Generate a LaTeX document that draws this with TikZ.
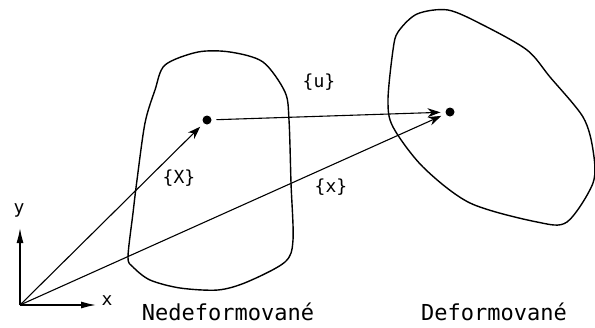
\documentclass[tikz,border=0pt]{standalone}
\usepackage{fontspec}
\newfontfamily\popisfont{DejaVu Sans Mono}
\usepackage{tikz}
\usetikzlibrary{arrows.meta,positioning}

\begin{document}
\begin{tikzpicture}[
	x=1pt, y=-1pt,
	>={Stealth[length=13pt,width=9pt]},
	bod/.style={circle, fill=black, inner sep=0pt, minimum size=9pt, outer sep=5pt},
	vektor/.style={->, line width=1.1pt},
	osa/.style={-{Latex[length=16pt,width=7pt]}, line width=2pt},
	teleso/.style={line width=1.4pt},
	popis/.style={font=\popisfont\fontsize{18}{20}\selectfont, inner sep=0pt},
	nazev/.style={font=\popisfont\fontsize{22}{24}\selectfont, inner sep=0pt, anchor=base},
]
\useasboundingbox (0,0) rectangle (595,327);

% telesa
\draw[teleso] plot[smooth cycle, tension=0.5] coordinates {(198,52) (230,52) (263,62) (285,92) (289,120) (291,183) (293,240) (285,262) (247,282) (218,290) (180,288) (150,280) (133,267) (128,257) (133,213) (137,180) (145,123) (155,90) (165,65)};
\draw[teleso] plot[smooth cycle, tension=0.5] coordinates {(417,14) (448,10) (483,25) (527,50) (550,77) (583,117) (593,150) (593,183) (567,222) (537,222) (470,203) (423,167) (393,127) (388,100) (393,50) (398,32)};

\coordinate (O) at (20,305);
\coordinate (xkon) at (97,305);
\coordinate (ykon) at (20,227);
\node[bod] (P) at (207,120) {};
\node[bod] (Q) at (450,112) {};

\draw[osa] (O) -- (xkon);
\draw[osa] (O) -- (ykon);
\node[popis] (xlab) at (107,301) {x};
\node[popis] (ylab) at (19,210) {y};

\draw[vektor] (O) -- (P);
\draw[vektor] (P) -- (Q);
\draw[vektor] (O) -- (Q);

\node[popis] (Xlab) at (179,178) {\{X\}};
\node[popis] (ulab) at (319,82) {\{u\}};
\node[popis] (xvlab) at (331,187) {\{x\}};

\node[nazev] (nedef) at (228,320) {Nedeformované};
\node[nazev] (def) at (494,320) {Deformované};
\end{tikzpicture}
\end{document}
